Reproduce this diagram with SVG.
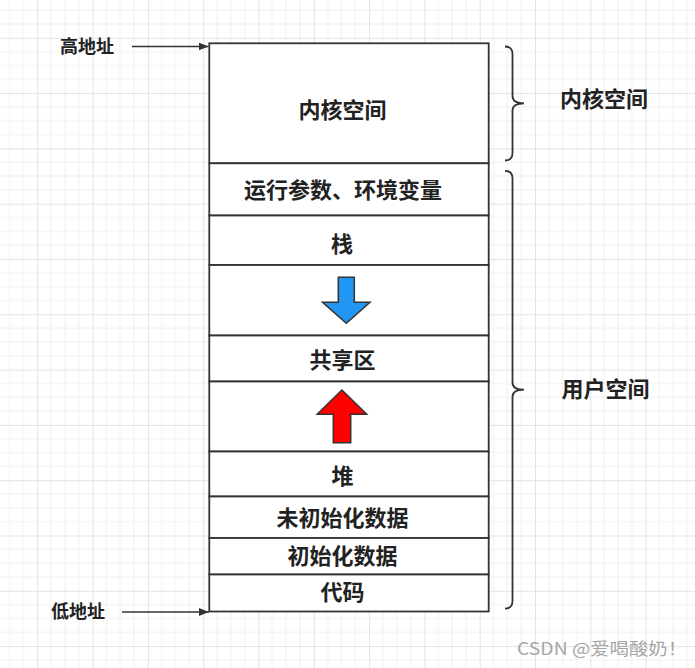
<svg xmlns="http://www.w3.org/2000/svg" width="695" height="668" viewBox="0 0 695 668">
<style>
.cell{fill:#ffffff;stroke:#333333;stroke-width:1.8}
.lbl{font-family:"Noto Sans CJK SC","Noto Sans",sans-serif;font-weight:bold;font-size:22px;fill:#222222;text-anchor:middle;dominant-baseline:central}
.side{font-family:"Noto Sans CJK SC","Noto Sans",sans-serif;font-weight:bold;font-size:18px;fill:#222222;text-anchor:middle;dominant-baseline:central}
.conn{stroke:#333333;stroke-width:1.5;fill:none}
.brace{stroke:#333333;stroke-width:1.8;fill:none}
</style>
<defs>
<pattern id="grid" x="-18" y="37.8" width="55.3" height="55.3" patternUnits="userSpaceOnUse">
<path d="M13.825 0V55.3M27.65 0V55.3M41.475 0V55.3M0 13.825H55.3M0 27.65H55.3M0 41.475H55.3" stroke="#f0f0f0" stroke-width="1" fill="none"/>
<path d="M0.5 0V55.3M0 0.5H55.3" stroke="#e3e3e3" stroke-width="1" fill="none"/>
</pattern>
<marker id="ah" viewBox="0 0 10 8" refX="10" refY="4" markerWidth="10" markerHeight="8" markerUnits="userSpaceOnUse" orient="auto">
<path d="M0 0L10 4L0 8Z" fill="#333333"/>
</marker>
</defs>
<rect x="0" y="0" width="695" height="668" fill="#ffffff"/>
<rect x="0" y="0" width="695" height="668" fill="url(#grid)"/>

<g id="kernel"><rect class="cell" x="209.3" y="43.3" width="279.4" height="120"/><text class="lbl" x="342.5" y="107.5">内核空间</text></g>
<g id="args"><rect class="cell" x="209.3" y="163.3" width="279.4" height="52.2"/><text class="lbl" x="343" y="187.5">运行参数、环境变量</text></g>
<g id="stack"><rect class="cell" x="209.3" y="215.5" width="279.4" height="49.5"/><text class="lbl" x="342" y="241.5">栈</text></g>
<g id="stack-grow"><rect class="cell" x="209.3" y="265" width="279.4" height="70.5"/>
<polygon points="338.3,277.3 354.3,277.3 354.3,302.3 370,302.3 346.3,323.3 322.5,302.3 338.3,302.3" fill="#2196f3" stroke="#333333" stroke-width="1.5" stroke-linejoin="miter"/></g>
<g id="shared"><rect class="cell" x="209.3" y="335.5" width="279.4" height="46"/><text class="lbl" x="342.5" y="357.5">共享区</text></g>
<g id="heap-grow"><rect class="cell" x="209.3" y="381.5" width="279.4" height="70"/>
<polygon points="341.9,390 366.7,414.3 350.7,414.3 350.7,442.7 333.3,442.7 333.3,414.3 317.2,414.3" fill="#ff0000" stroke="#333333" stroke-width="1.5"/></g>
<g id="heap"><rect class="cell" x="209.3" y="451.5" width="279.4" height="45"/><text class="lbl" x="342.5" y="473.5">堆</text></g>
<g id="bss"><rect class="cell" x="209.3" y="496.5" width="279.4" height="41.5"/><text class="lbl" x="342.5" y="516">未初始化数据</text></g>
<g id="data"><rect class="cell" x="209.3" y="538" width="279.4" height="36.5"/><text class="lbl" x="342.5" y="554">初始化数据</text></g>
<g id="text-seg"><rect class="cell" x="209.3" y="574.5" width="279.4" height="37"/><text class="lbl" x="342.5" y="590">代码</text></g>

<g id="high-addr"><text class="side" x="87" y="44.5">高地址</text></g>
<g id="low-addr"><text class="side" x="78" y="610">低地址</text></g>

<g id="kernel-brace"><path class="brace" d="M505 46.5Q512.5 46.5 512.5 54V96Q512.5 103.3 524 103.3Q512.5 103.3 512.5 110.6V153Q512.5 160.5 505 160.5"/>
<text class="lbl" x="604" y="97">内核空间</text></g>
<g id="user-brace"><path class="brace" d="M505 170.8Q512.5 170.8 512.5 178.3V382.4Q512.5 389.7 524 389.7Q512.5 389.7 512.5 397V601.1Q512.5 608.6 505 608.6"/>
<text class="lbl" x="605.5" y="387.2">用户空间</text></g>

<g id="connectors">
<line class="conn" x1="132" y1="46.5" x2="208.5" y2="46.5" marker-end="url(#ah)"/>
<line class="conn" x1="122" y1="612" x2="209" y2="612" marker-end="url(#ah)"/>
</g>

<text x="517" y="647.5" font-family="Noto Sans CJK SC,Noto Sans,sans-serif" font-size="17" fill="#a6a6a6" dominant-baseline="central" textLength="170" lengthAdjust="spacingAndGlyphs">CSDN @爱喝酸奶！</text>
</svg>
